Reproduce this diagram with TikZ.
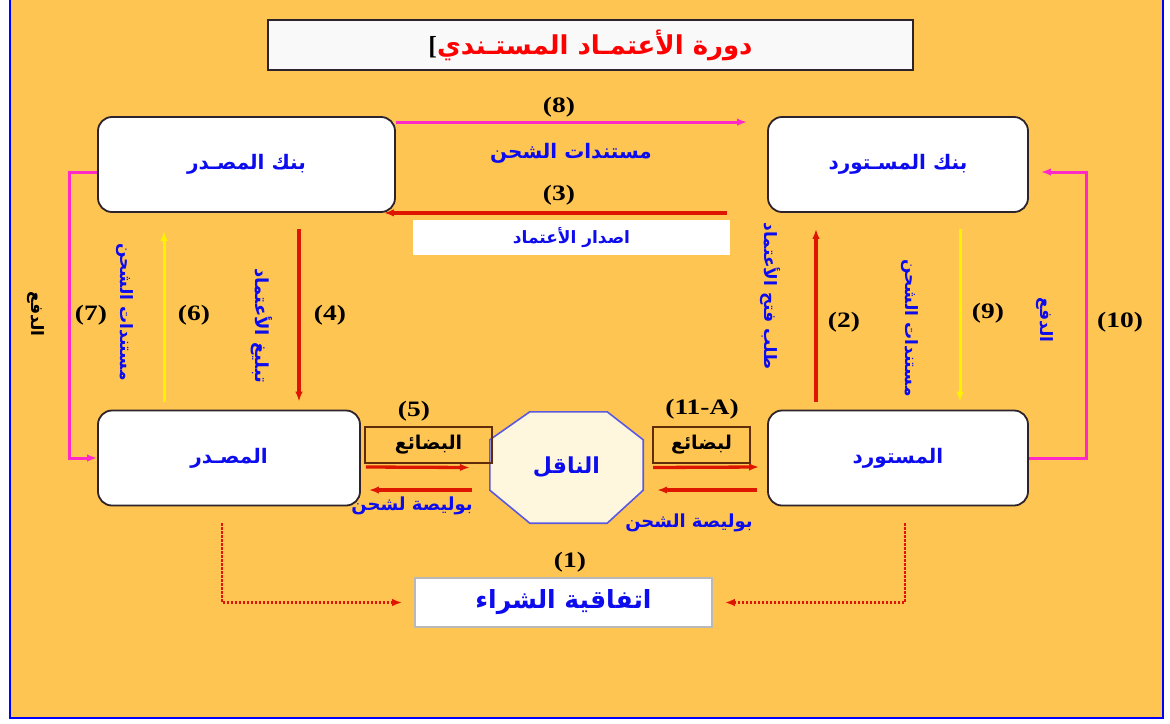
\documentclass[tikz,border=0pt]{standalone}
\usepackage{fontspec}
\setmainfont{Liberation Serif}
\newfontfamily\numfont{Liberation Serif}[FakeStretch=1.25]
\newfontfamily\arabicfont[Script=Arabic]{DejaVu Sans}
\TeXXeTstate=1
\usetikzlibrary{positioning,arrows.meta}
\definecolor{bgorange}{RGB}{255,197,82}
\definecolor{linkpink}{RGB}{255,40,200}
\definecolor{linkred}{RGB}{222,22,0}
\definecolor{txtblue}{RGB}{12,12,238}
\definecolor{framegray}{RGB}{45,35,45}
\definecolor{goodsbrown}{RGB}{95,45,10}
\newcommand{\artext}[1]{\arabicfont\bfseries\beginR #1\endR}

\begin{document}
\begin{tikzpicture}[x=1pt,y=-1pt,
    partybox/.style={draw=framegray, line width=1.8pt, fill=white, rounded corners=14pt,
        minimum width=260pt, minimum height=95pt, text=txtblue, font=\fontsize{20}{22}\selectfont},
    num/.style={font=\numfont\fontsize{22}{24}\selectfont\bfseries},
    sidetext/.style={rotate=-90, text=txtblue, font=\fontsize{17}{19}\selectfont},
    bluetext/.style={text=txtblue, font=\fontsize{18}{20}\selectfont},
    goodsbox/.style={draw=goodsbrown, line width=1.6pt, minimum height=36pt, font=\fontsize{19}{21}\selectfont},
    tip/.style={-{Latex[length=10pt,width=7.5pt]}},
    pinkline/.style={tip, linkpink, line width=3pt},
    redline/.style={tip, linkred, line width=3.3pt},
    yellowline/.style={tip, yellow, line width=3pt},
    dotline/.style={tip, linkred, line width=2.4pt, dash pattern=on 2.4pt off 1.6pt}]
    \useasboundingbox (0,0) rectangle (1170,723);
    %background and frame
    \fill[white] (0,0) rectangle (1170,723);
    \fill[bgorange] (10,0) rectangle (1163,718);
    \draw[blue, line width=1.8pt] (10,0) -- (10,718) -- (1163,718) -- (1163,0);

    %title
    \node[draw=framegray, line width=2pt, fill=gray!5, minimum width=645pt, minimum height=50pt,
        text=red, font=\fontsize{26}{28}\selectfont] (title) at (590.5,45)
        {\textcolor{black}{\bfseries[}\arabicfont\bfseries\beginR دورة الأعتمـاد المستـندي\endR};

    %the four parties
    \node[partybox, minimum width=297pt] (expbank) at (246.5,164.5) {\artext{بنك المصـدر}};
    \node[partybox] (impbank) at (898,164.5) {\artext{بنك المسـتورد}};
    \node[partybox, minimum width=262pt] (exporter) at (229,458) {\artext{المصـدر}};
    \node[partybox] (importer) at (898,458) {\artext{المستورد}};

    %the carrier
    \path node[minimum width=153pt, minimum height=111pt] (carrier) at (566.5,467.5) {};
    \draw[draw={rgb,255:red,90;green,90;blue,225}, line width=1.6pt, fill={rgb,255:red,255;green,246;blue,222}]
        ([xshift=40pt]carrier.north west) -- ([xshift=-36pt]carrier.north east)
        -- ([yshift=-28pt]carrier.north east) -- ([yshift=33pt]carrier.south east)
        -- ([xshift=-36pt]carrier.south east) -- ([xshift=40pt]carrier.south west)
        -- ([yshift=33pt]carrier.south west) -- ([yshift=-28pt]carrier.north west) -- cycle;
    \node[text=txtblue, font=\fontsize{22}{24}\selectfont] (carriername) at (carrier) {\artext{الناقل}};

    %(8) and (3) between the banks
    \draw[pinkline] ([yshift=-6pt]expbank.north east) -- ([xshift=-20pt,yshift=-6pt]impbank.north west);
    \node[num] (n8) at (559,107) {(8)};
    \node[bluetext, font=\fontsize{20}{22}\selectfont] (docs8) at (571,153) {\artext{مستندات الشحن}};
    \draw[redline] ([xshift=-40pt]impbank.south west) -- ([xshift=-12pt]expbank.south east);
    \node[num] (n3) at (559,195) {(3)};
    \node[fill=white, minimum width=317pt, minimum height=35pt, text=txtblue,
        font=\fontsize{17}{19}\selectfont] (issue) at (571.5,237.5) {\artext{اصدار الأعتماد}};

    %exporter side
    \draw[pinkline] ([yshift=-7.5pt]expbank.west) -- ++(-28,0) |- (exporter.west);
    \node[num] (n7) at (91,315) {(7)};
    \node[sidetext, text=black] (pay7) at (36,314) {\artext{الدفع}};
    \draw[yellowline] ([xshift=-65pt,yshift=8pt]exporter.north) -- ([xshift=-82.5pt,yshift=-18pt]expbank.south);
    \node[num] (n6) at (194,315) {(6)};
    \node[sidetext] (docs6) at (125,312) {\artext{مستندات الشحن}};
    \draw[redline] ([xshift=52.5pt,yshift=-16pt]expbank.south) -- ([xshift=70pt,yshift=8pt]exporter.north);
    \node[num] (n4) at (330,315) {(4)};
    \node[sidetext, font=\fontsize{18}{20}\selectfont] (advise) at (262,326) {\artext{تبليغ الأعتماد}};

    %importer side
    \draw[redline] ([xshift=-82pt,yshift=8pt]importer.north) -- ([xshift=-82pt,yshift=-16pt]impbank.south);
    \node[num] (n2) at (844,322) {(2)};
    \node[sidetext] (request) at (770,296) {\artext{طلب فتح الأعتماد}};
    \draw[yellowline] ([xshift=62pt,yshift=-16pt]impbank.south) -- ([xshift=62pt,yshift=8pt]importer.north);
    \node[num] (n9) at (988,313) {(9)};
    \node[sidetext] (docs9) at (910,328) {\artext{مستندات الشحن}};
    \draw[pinkline] (importer.east) -- ++(58,0) |- ([xshift=12pt,yshift=-7.5pt]impbank.east);
    \node[num] (n10) at (1120,322) {(10)};
    \node[sidetext] (pay10) at (1045,320) {\artext{الدفع}};

    %goods and bills of lading
    \node[goodsbox, minimum width=127pt] (goodsx) at (428.5,445) {\artext{البضائع}};
    \node[num] (n5) at (414,411) {(5)};
    \draw[redline] ([xshift=5pt,yshift=-9pt]exporter.east) -- ([xshift=-20pt]carrier.west);
    \draw[redline] ([xshift=-18pt,yshift=-22.5pt]carrier.west) -- ([xshift=8pt,yshift=-32pt]exporter.east);
    \node[bluetext] (billx) at (412,506) {\artext{بوليصة لشحن}};
    \node[goodsbox, minimum width=97pt] (goodsm) at (701.5,445) {\artext{لبضائع}};
    \node[num] (n11) at (702,409) {(11-A)};
    \draw[redline] ([xshift=10pt]carrier.east) -- ([xshift=-8pt,yshift=-9pt]importer.west);
    \draw[redline] ([xshift=-10pt,yshift=-32pt]importer.west) -- ([xshift=14pt,yshift=-22.5pt]carrier.east);
    \node[bluetext] (billm) at (689,523) {\artext{بوليصة الشحن}};

    %(1) purchase agreement
    \node[draw=gray!55, line width=1.6pt, fill=white, minimum width=297pt, minimum height=49pt,
        text=txtblue, font=\fontsize{25}{27}\selectfont] (deal) at (563.5,602.5) {\artext{اتفاقية الشراء}};
    \node[num] (n1) at (570,562) {(1)};
    \draw[dotline] ([xshift=-7pt,yshift=-17pt]exporter.south) |- ([xshift=-12pt]deal.west);
    \draw[dotline] ([xshift=7pt,yshift=-17pt]importer.south) |- ([xshift=12pt]deal.east);
\end{tikzpicture}
\end{document}
